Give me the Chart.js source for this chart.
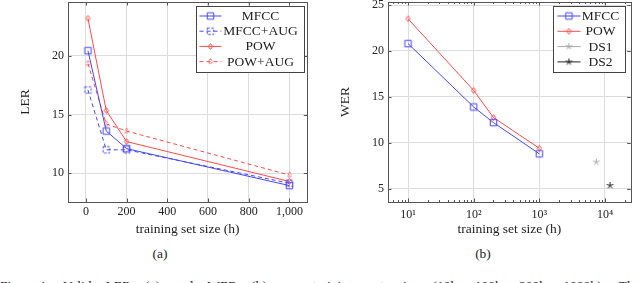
<!DOCTYPE html>
<html>
<head>
<meta charset="utf-8">
<script src="https://cdn.jsdelivr.net/npm/chart.js@4.4.0/dist/chart.umd.min.js"></script>
<style>
  body { margin: 0; width: 640px; height: 283px; overflow: hidden; background: #fff; position: relative; font-family: "Liberation Serif", "Times New Roman", "DejaVu Serif", serif; color: #222; }
  canvas { position: absolute; top: -14px; }
  #lerChart { left: 0; }
  #werChart { left: 320px; }
  .sub { position: absolute; top: 247px; width: 60px; text-align: center; font-size: 13.5px; line-height: 1; }
  #caption { position: absolute; left: 0; top: 278.5px; width: 640px; font-size: 13.5px; line-height: 1; display: flex; justify-content: space-between; white-space: nowrap; }
</style>
</head>
<body>
<canvas id="lerChart" width="320" height="254"></canvas>
<canvas id="werChart" width="320" height="254"></canvas>
<div class="sub" style="left:130px">(a)</div>
<div class="sub" style="left:453px">(b)</div>
<div id="caption">
  <span>Figure 4:</span><span>Valid</span><span>LER</span><span>(a)</span><span>and</span><span>WER</span><span>(b)</span><span>v.s.</span><span>training</span><span>set</span><span>size</span><span>(10h,</span><span>100h,</span><span>200h,</span><span>1000h).</span><span>The</span>
</div>
<script>
// Dados
const horas = [10, 100, 200, 1000];
const lerMfcc = [20.45, 13.6, 12.1, 8.95];
const lerMfccAug = [17.1, 12.0, 12.0, 9.15];
const lerPow = [23.2, 15.35, 12.7, 9.3];
const lerPowAug = [19.35, 14.2, 13.6, 9.85];

const werMfcc = [20.8, 13.9, 12.2, 8.8];
const werPow = [23.5, 15.7, 12.75, 9.4];
const ds1Horas = [7380];
const ds1Wer = [7.9];
const ds2Horas = [11940];
const ds2Wer = [5.35];

// Rótulos dos eixos
const lerTicksX = [0, 200, 400, 600, 800, 1000];
const lerTicksY = [10, 15, 20];
const werTicksX = [10, 100, 1000, 10000];
const werTicksY = [5, 10, 15, 20, 25];
const sup = ['\u2070', '\u00b9', '\u00b2', '\u00b3', '\u2074'];

const AZUL = '#4646ff';
const VERMELHO = '#ff4a4a';
const CINZA = '#a8a8a8';
const PRETO = '#222222';
const FONTE = '"Liberation Serif", "Times New Roman", "DejaVu Serif", serif';

Chart.defaults.font.family = FONTE;
Chart.defaults.font.size = 12;
Chart.defaults.color = '#222';

// Marcadores no estilo pgfplots (podem ser tracejados)
function makeMarker(shape, color, dashed) {
    const c = document.createElement('canvas');
    c.width = 11; c.height = 11;
    const g = c.getContext('2d');
    g.strokeStyle = color;
    g.lineWidth = 1;
    if (dashed) g.setLineDash([2.4, 1.6]);
    g.beginPath();
    if (shape === 'square') {
        g.rect(2.25, 2.25, 6.5, 6.5);
    } else if (shape === 'diamond') {
        g.moveTo(5.5, 2.6); g.lineTo(7.7, 5.5); g.lineTo(5.5, 8.4); g.lineTo(3.3, 5.5); g.closePath();
    } else {
        for (let k = 0; k < 5; k++) {
            const ang = -Math.PI / 2 + k * 2 * Math.PI / 5;
            g.moveTo(5.5, 5.5);
            g.lineTo(5.5 + 3.4 * Math.cos(ang), 5.5 + 3.4 * Math.sin(ang));
        }
    }
    g.stroke();
    return c;
}

function pontos(xs, ys) {
    return xs.map((x, i) => ({ x: x, y: ys[i] }));
}

function serie(label, xs, ys, color, dashed, shape, showLine = true) {
    return {
        label: label,
        data: pontos(xs, ys),
        borderColor: color,
        borderWidth: 1,
        borderDash: dashed ? [4, 3] : [],
        pointStyle: makeMarker(shape, color, dashed),
        showLine: showLine,
        tension: 0,
        fill: false
    };
}

// Moldura completa com marcas de escala internas
const moldura = {
    id: 'moldura',
    afterDatasetsDraw(chart, args, opts) {
        const { ctx, chartArea: a, scales } = chart;
        ctx.save();
        ctx.strokeStyle = '#555';
        ctx.lineWidth = 1;
        const risco = (x1, y1, x2, y2) => { ctx.beginPath(); ctx.moveTo(x1, y1); ctx.lineTo(x2, y2); ctx.stroke(); };
        scales.x.ticks.forEach(t => {
            const x = Math.round(scales.x.getPixelForValue(t.value)) + 0.5;
            risco(x, a.bottom, x, a.bottom - 3.5);
            risco(x, a.top, x, a.top + 3.5);
        });
        scales.y.ticks.forEach(t => {
            const y = Math.round(scales.y.getPixelForValue(t.value)) + 0.5;
            risco(a.left, y, a.left + 3.5, y);
            risco(a.right, y, a.right - 3.5, y);
        });
        if (opts.minorLog) {
            for (let d = 1; d <= 100000; d *= 10) {
                for (let m = 2; m <= 9; m++) {
                    const v = m * d;
                    if (v < scales.x.min || v > scales.x.max) continue;
                    const x = Math.round(scales.x.getPixelForValue(v)) + 0.5;
                    risco(x, a.bottom, x, a.bottom - 2);
                    risco(x, a.top, x, a.top + 2);
                }
            }
        }
        ctx.strokeRect(Math.round(a.left) + 0.5, Math.round(a.top) + 0.5, Math.round(a.right - a.left), Math.round(a.bottom - a.top));
        ctx.restore();
    }
};

// Legenda em caixa dentro da área do gráfico
const legendaCaixa = {
    id: 'legendaCaixa',
    afterDraw(chart, args, o) {
        const { ctx, chartArea: a } = chart;
        const x0 = Math.round(a.right - o.right - o.width) + 0.5;
        const y0 = Math.round(a.top + o.top) + 0.5;
        ctx.save();
        ctx.fillStyle = '#fff';
        ctx.fillRect(x0, y0, o.width, o.height);
        ctx.strokeStyle = '#444';
        ctx.lineWidth = 1;
        ctx.strokeRect(x0, y0, o.width, o.height);
        chart.data.datasets.forEach((ds, i) => {
            const y = y0 + o.rowTop + i * o.rowGap;
            ctx.strokeStyle = ds.borderColor;
            ctx.lineWidth = ds.borderWidth;
            ctx.setLineDash(ds.borderDash);
            ctx.beginPath();
            ctx.moveTo(x0 + o.lineFrom, y);
            ctx.lineTo(x0 + o.lineTo, y);
            ctx.stroke();
            ctx.setLineDash([]);
            const img = ds.pointStyle;
            ctx.drawImage(img, x0 + o.mark - img.width / 2, y - img.height / 2);
            ctx.fillStyle = '#222';
            ctx.font = '13.5px ' + FONTE;
            ctx.textAlign = 'center';
            ctx.textBaseline = 'middle';
            ctx.fillText(ds.label, x0 + o.textX, y + 0.5);
        });
        ctx.restore();
    }
};

function eixoX(tipo, min, max, ticksArr, padding, callback) {
    const eixo = {
        type: tipo,
        min: min,
        max: max,
        afterBuildTicks: s => { s.ticks = ticksArr.map(v => ({ value: v })); },
        afterFit: s => { s.height = 38; },
        grid: { color: '#dcdcdc', drawTicks: false },
        border: { display: false },
        ticks: { padding: padding, autoSkip: false, maxRotation: 0, font: { size: 12 } },
        title: { display: true, text: 'training set size (h)', font: { size: 13.5 }, padding: { top: 0, bottom: 2 } }
    };
    if (callback) eixo.ticks.callback = callback;
    return eixo;
}

function eixoY(min, max, ticksArr, titulo) {
    return {
        min: min,
        max: max,
        afterBuildTicks: s => { s.ticks = ticksArr.map(v => ({ value: v })); },
        afterFit: s => { s.width = 68; },
        grid: { color: '#dcdcdc', drawTicks: false },
        border: { display: false },
        ticks: { padding: 4, font: { size: 12 } },
        title: { display: true, text: titulo, font: { size: 13.5 }, padding: { top: 17, bottom: 0 } }
    };
}

// Gráfico (a): LER
new Chart(document.getElementById('lerChart'), {
    type: 'line',
    data: {
        datasets: [
            serie('MFCC', horas, lerMfcc, AZUL, false, 'square'),
            serie('MFCC+AUG', horas, lerMfccAug, AZUL, true, 'square'),
            serie('POW', horas, lerPow, VERMELHO, false, 'diamond'),
            serie('POW+AUG', horas, lerPowAug, VERMELHO, true, 'diamond')
        ]
    },
    options: {
        responsive: false,
        animation: false,
        devicePixelRatio: 1,
        layout: { padding: { top: 16, right: 12.7, left: 0, bottom: 0 } },
        scales: {
            x: eixoX('linear', -88, 1088, lerTicksX, 3),
            y: eixoY(7.55, 24.6, lerTicksY, 'LER')
        },
        plugins: {
            legend: { display: false },
            tooltip: { enabled: false },
            moldura: {},
            legendaCaixa: { width: 108, height: 66, right: 3.3, top: 4, rowTop: 9.5, rowGap: 15.2, lineFrom: 3, lineTo: 25, mark: 14, textX: 64 }
        }
    },
    plugins: [moldura, legendaCaixa]
});

// Gráfico (b): WER
new Chart(document.getElementById('werChart'), {
    type: 'line',
    data: {
        datasets: [
            serie('MFCC', horas, werMfcc, AZUL, false, 'square'),
            serie('POW', horas, werPow, VERMELHO, false, 'diamond'),
            serie('DS1', ds1Horas, ds1Wer, CINZA, false, 'star', false),
            serie('DS2', ds2Horas, ds2Wer, PRETO, false, 'star', false)
        ]
    },
    options: {
        responsive: false,
        animation: false,
        devicePixelRatio: 1,
        layout: { padding: { top: 16, right: 9.3, left: 0, bottom: 0 } },
        scales: {
            x: eixoX('logarithmic', 4.95, 24660, werTicksX, 6, v => '10' + sup[Math.round(Math.log10(v))]),
            y: eixoY(3.55, 25.33, werTicksY, 'WER')
        },
        plugins: {
            legend: { display: false },
            tooltip: { enabled: false },
            moldura: { minorLog: true },
            legendaCaixa: { width: 72, height: 66, right: 5.4, top: 4, rowTop: 9.5, rowGap: 15.3, lineFrom: 4, lineTo: 27, mark: 15.4, textX: 47 }
        }
    },
    plugins: [moldura, legendaCaixa]
});
</script>
</body>
</html>
